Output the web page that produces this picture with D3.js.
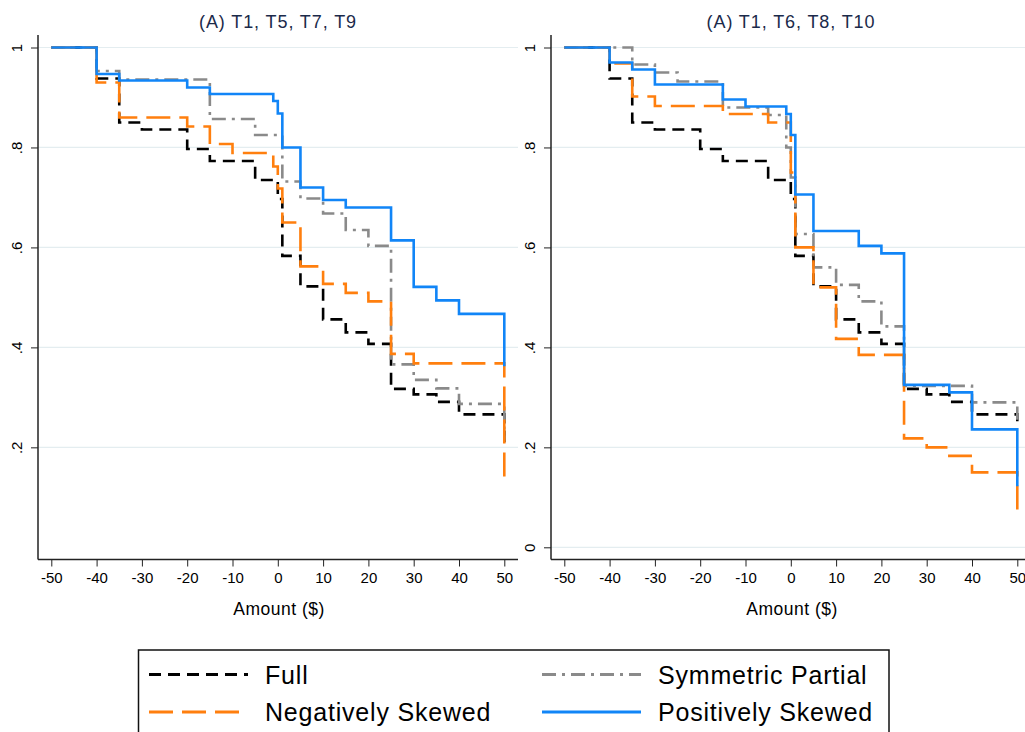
<!DOCTYPE html>
<html>
<head>
<meta charset="utf-8">
<script src="https://cdn.jsdelivr.net/npm/d3@7"></script>
<style>
  body { margin: 0; background: #fff; }
  svg { display: block; font-family: 'Liberation Sans', Arial, Helvetica, sans-serif; }
</style>
</head>
<body>
<svg class="chart" width="1025" height="732"></svg>
<script>
// step points: [amount, share], value holds from this amount on
var fullA = [[-50, 1], [-40, 0.938], [-35, 0.85], [-30, 0.836], [-20, 0.797], [-15, 0.773], [-5, 0.735], [0, 0.697], [1, 0.583], [5, 0.522], [10, 0.456], [15, 0.43], [20, 0.407], [25, 0.317], [30, 0.306], [35, 0.291], [40, 0.266], [50, 0.21]]
var negA = [[-50, 1], [-40, 0.93], [-35, 0.86], [-20, 0.842], [-15, 0.807], [-10, 0.789], [-1, 0.762], [0, 0.718], [1, 0.65], [5, 0.562], [10, 0.527], [15, 0.509], [20, 0.492], [25, 0.387], [30, 0.368], [50, 0.125]]
var symA = [[-50, 1], [-40, 0.953], [-35, 0.936], [-15, 0.857], [-5, 0.825], [1, 0.732], [5, 0.698], [10, 0.668], [15, 0.635], [20, 0.603], [25, 0.366], [30, 0.335], [35, 0.318], [40, 0.287], [50, 0.215]]
var posA = [[-50, 1], [-40, 0.947], [-35, 0.934], [-20, 0.92], [-15, 0.907], [-1, 0.893], [0, 0.868], [1, 0.8], [5, 0.72], [10, 0.695], [15, 0.68], [25, 0.614], [30, 0.521], [35, 0.494], [40, 0.467], [50, 0.362]]

var fullB = [[-50, 1], [-40, 0.938], [-35, 0.85], [-30, 0.836], [-20, 0.797], [-15, 0.773], [-5, 0.735], [0, 0.697], [1, 0.583], [5, 0.522], [10, 0.456], [15, 0.43], [20, 0.407], [25, 0.317], [30, 0.306], [35, 0.291], [40, 0.266], [50, 0.252]]
var negB = [[-50, 1], [-40, 0.968], [-35, 0.902], [-30, 0.883], [-15, 0.867], [-5, 0.85], [0, 0.75], [1, 0.6], [5, 0.52], [10, 0.417], [15, 0.385], [25, 0.218], [30, 0.2], [35, 0.183], [40, 0.15], [50, 0.072]]
var symB = [[-50, 1], [-35, 0.966], [-30, 0.95], [-25, 0.932], [-15, 0.88], [-5, 0.865], [-1, 0.8], [0, 0.74], [1, 0.627], [5, 0.56], [10, 0.525], [15, 0.492], [20, 0.442], [25, 0.323], [40, 0.29], [50, 0.255]]
var posB = [[-50, 1], [-40, 0.97], [-35, 0.956], [-30, 0.926], [-15, 0.896], [-10, 0.882], [-1, 0.867], [0, 0.825], [1, 0.706], [5, 0.633], [15, 0.603], [20, 0.588], [25, 0.325], [35, 0.31], [40, 0.236], [50, 0.122]]

var seriesNames = ['Full', 'Negatively Skewed', 'Symmetric Partial', 'Positively Skewed']
var panelTitles = ['(A) T1, T5, T7, T9', '(A) T1, T6, T8, T10']
var xTicks = [-50, -40, -30, -20, -10, 0, 10, 20, 30, 40, 50]
var yTicksA = [0.2, 0.4, 0.6, 0.8, 1]
var yTicksB = [0, 0.2, 0.4, 0.6, 0.8, 1]

var styles = {
  'Full': { color: '#000000', dash: '12,7' },
  'Negatively Skewed': { color: '#ff7f0e', dash: '24,9' },
  'Symmetric Partial': { color: '#8a8a8a', dash: '14,6,3,6' },
  'Positively Skewed': { color: '#1185f7', dash: null }
}

var svg = d3.select('.chart')

function yFormat(d) {
  if (d === 1) return '1'
  if (d === 0) return '0'
  return d3.format('.1f')(d).replace('0.', '.')
}

function drawPanel(left, title, yTicks, data) {
  var top = 35
  var bottom = 559.5
  var right = left + 480

  var x = d3.scaleLinear().domain([-50, 50]).range([left + 13.3, left + 466.3])
  var y = d3.scaleLinear().domain([0, 1]).range([547.3, 47.5])

  var g = svg.append('g')

  //grid lines
  g.append('g')
    .selectAll('line')
    .data(yTicks)
    .enter()
    .append('line')
    .attr('x1', left)
    .attr('x2', right)
    .attr('y1', d => y(d))
    .attr('y2', d => y(d))
    .attr('stroke', '#e4edf0')
    .attr('stroke-width', 1.2)

  // y axis, labels rotated like stata
  var yAxis = g
    .append('g')
    .attr('transform', `translate(${left}, 0)`)
    .call(d3.axisLeft(y).tickValues(yTicks).tickFormat(yFormat).tickSize(7).tickSizeOuter(0))
  yAxis.select('.domain').remove()
  yAxis.selectAll('line').attr('stroke', '#222').attr('stroke-width', 1)
  yAxis
    .selectAll('text')
    .attr('x', 0)
    .attr('dy', 0)
    .attr('transform', 'translate(-16, 0) rotate(-90)')
    .attr('text-anchor', 'middle')
    .attr('font-size', 15)
    .attr('fill', '#000')

  // plain hyphen for negatives, not the unicode minus
  var xAxis = g
    .append('g')
    .attr('transform', `translate(0, ${bottom})`)
    .call(d3.axisBottom(x).tickValues(xTicks).tickFormat(d => String(d)).tickSize(7).tickSizeOuter(0).tickPadding(6))
  xAxis.select('.domain').remove()
  xAxis.selectAll('line').attr('stroke', '#222').attr('stroke-width', 1)
  xAxis.selectAll('text').attr('font-size', 15).attr('fill', '#000')

  // axis lines
  g.append('line')
    .attr('x1', left).attr('x2', left)
    .attr('y1', top).attr('y2', bottom)
    .attr('stroke', '#222').attr('stroke-width', 1.5)
  g.append('line')
    .attr('x1', left).attr('x2', right)
    .attr('y1', bottom).attr('y2', bottom)
    .attr('stroke', '#222').attr('stroke-width', 1.5)

  var line = d3
    .line()
    .x(d => x(d[0]))
    .y(d => y(d[1]))
    .curve(d3.curveStepAfter)

  // draw back to front: full, symmetric, negative, positive
  var order = ['Full', 'Symmetric Partial', 'Negatively Skewed', 'Positively Skewed']
  order.forEach(function(name) {
    var s = styles[name]
    g.append('path')
      .datum(data[name])
      .attr('d', line)
      .attr('fill', 'none')
      .attr('stroke', s.color)
      .attr('stroke-width', 2.6)
      .attr('stroke-dasharray', s.dash)
  })

  //labels
  g.append('text')
    .attr('x', (left + right) / 2)
    .attr('y', 28)
    .attr('text-anchor', 'middle')
    .attr('font-size', 18)
    .attr('letter-spacing', 0.9)
    .attr('fill', '#1b2a4a')
    .text(title)

  g.append('text')
    .attr('x', (left + right) / 2 + 1)
    .attr('y', 615)
    .attr('text-anchor', 'middle')
    .attr('font-size', 17.5)
    .attr('letter-spacing', 0.5)
    .attr('fill', '#000')
    .text('Amount ($)')
}

drawPanel(38, panelTitles[0], yTicksA, {
  'Full': fullA, 'Negatively Skewed': negA, 'Symmetric Partial': symA, 'Positively Skewed': posA
})
drawPanel(551, panelTitles[1], yTicksB, {
  'Full': fullB, 'Negatively Skewed': negB, 'Symmetric Partial': symB, 'Positively Skewed': posB
})

// legend
var legend = svg.append('g')
legend.append('rect')
  .attr('x', 138.5)
  .attr('y', 650)
  .attr('width', 750.5)
  .attr('height', 120)
  .attr('fill', '#fff')
  .attr('stroke', '#111')
  .attr('stroke-width', 1.5)

var legendPos = [
  { name: seriesNames[0], x: 149, y: 674.5 },
  { name: seriesNames[2], x: 542, y: 674.5 },
  { name: seriesNames[1], x: 149, y: 712 },
  { name: seriesNames[3], x: 542, y: 712 }
]

legendPos.forEach(function(p) {
  var s = styles[p.name]
  legend.append('line')
    .attr('x1', p.x).attr('x2', p.x + 99)
    .attr('y1', p.y).attr('y2', p.y)
    .attr('stroke', s.color)
    .attr('stroke-width', 3)
    .attr('stroke-dasharray', s.dash)
  legend.append('text')
    .attr('x', p.x + 116)
    .attr('y', p.y + 9)
    .attr('font-size', 25)
    .attr('letter-spacing', 0.8)
    .attr('fill', '#000')
    .text(p.name)
})
</script>
</body>
</html>
